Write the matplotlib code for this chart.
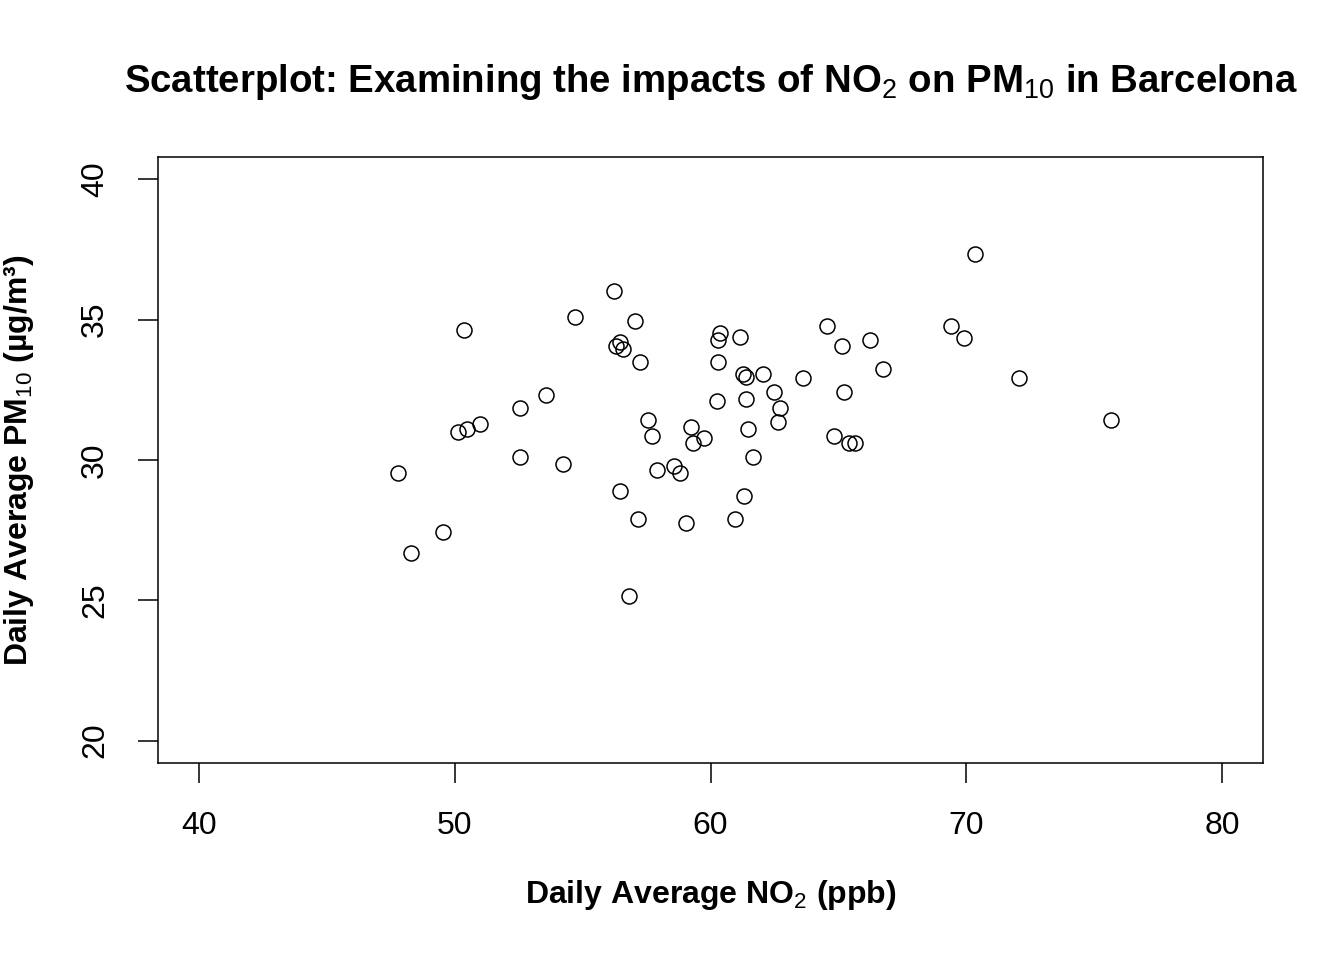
import numpy as np
import matplotlib
matplotlib.use("Agg")
import matplotlib.pyplot as plt

plt.rcParams['font.family'] = ['Liberation Sans', 'DejaVu Sans']
plt.rcParams['mathtext.fontset'] = 'custom'
plt.rcParams['mathtext.rm'] = 'Liberation Sans'
plt.rcParams['mathtext.it'] = 'Liberation Sans:italic'
plt.rcParams['mathtext.bf'] = 'Liberation Sans:bold'

# daily averages
no2 = [47.78, 48.29, 49.54, 50.13, 50.48, 50.36, 51.00, 52.55, 52.55, 53.57,
       54.23, 54.70, 56.23, 56.30, 56.46, 56.58, 56.46, 57.05, 57.24, 57.17,
       56.81, 57.56, 57.71, 57.91, 58.57, 58.81, 59.24, 59.32, 59.75, 59.04,
       60.37, 60.29, 60.29, 60.25, 61.15, 61.27, 61.39, 61.39, 61.47, 61.66,
       61.31, 60.96, 62.05, 62.48, 62.72, 62.64, 63.62, 64.56, 65.14, 65.22,
       66.74, 66.24, 64.83, 65.42, 65.65, 69.40, 69.91, 70.34, 72.06, 75.66]
pm10 = [29.52, 26.67, 27.42, 30.98, 31.09, 34.62, 31.27, 31.84, 30.09, 32.33,
        29.84, 35.08, 36.01, 34.08, 34.19, 33.94, 28.91, 34.94, 33.51, 27.91,
        25.17, 31.41, 30.84, 29.66, 29.77, 29.52, 31.16, 30.59, 30.77, 27.74,
        34.51, 34.26, 33.51, 32.09, 34.40, 33.08, 32.94, 32.16, 31.09, 30.09,
        28.73, 27.91, 33.08, 32.41, 31.84, 31.34, 32.91, 34.76, 34.08, 32.41,
        33.26, 34.26, 30.84, 30.59, 30.59, 34.76, 34.33, 37.33, 32.91, 31.41]

xticks = [40, 50, 60, 70, 80]
yticks = [20, 25, 30, 35, 40]

fig = plt.figure(figsize=(13.44, 9.6), dpi=100)
ax = fig.add_axes([0.1176, 0.2052, 0.8221, 0.6313])

ax.plot(no2, pm10, linestyle='none', marker='o', markersize=10.8,
        markerfacecolor='none', markeredgecolor='black', markeredgewidth=1.1)

ax.set_xlim(38.4, 81.6)
ax.set_ylim(19.2, 40.8)
ax.set_xticks(xticks)
ax.set_yticks(yticks)
ax.tick_params(direction='out', length=14.5, width=1.1, labelsize=23, pad=20)
for lab in ax.get_yticklabels():
    lab.set_rotation(90)
    lab.set_va('center')
for s in ax.spines.values():
    s.set_linewidth(1.1)

ax.set_xlabel(r"Daily Average NO$_2$ (ppb)", fontsize=23, fontweight='bold', labelpad=27)
ax.set_ylabel(r"Daily Average PM$_{10}$ (µg/m³)", fontsize=23, fontweight='bold', labelpad=32)
ax.set_title(r"Scatterplot: Examining the impacts of NO$_2$ on PM$_{10}$ in Barcelona",
             fontsize=27.6, fontweight='bold', pad=47)

fig.savefig("out.png", dpi=100)
